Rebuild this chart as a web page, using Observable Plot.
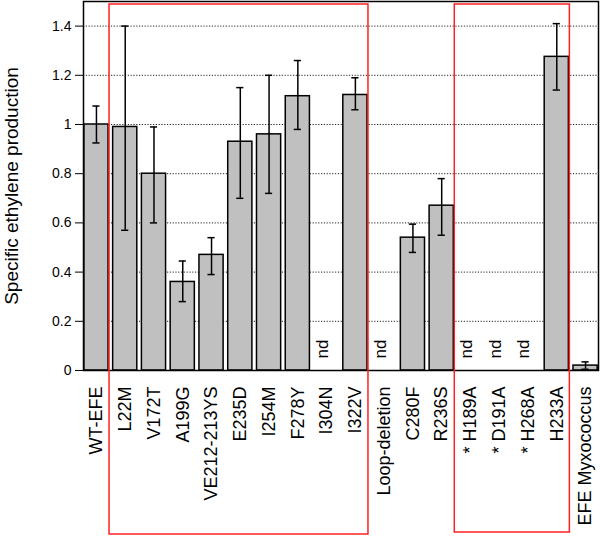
<!DOCTYPE html>
<html>
<head>
<meta charset="utf-8">
<script src="https://cdn.jsdelivr.net/npm/d3@7"></script>
<script src="https://cdn.jsdelivr.net/npm/@observablehq/plot@0.6"></script>
<style>
  html, body { margin: 0; padding: 0; background: #fff; }
  #chart svg { display: block; }
</style>
</head>
<body>
<div id="chart"></div>
<script>
const categories = ["WT-EFE", "L22M", "V172T", "A199G", "VE212-213YS", "E235D", "I254M", "F278Y", "I304N", "I322V",
  "Loop-deletion", "C280F", "R236S", "* H189A", "* D191A", "* H268A", "H233A", "EFE Myxococcus"];
const values  = [1.0, 0.99, 0.80, 0.36, 0.47, 0.93, 0.96, 1.115, null, 1.12, null, 0.54, 0.67, null, null, null, 1.275, 0.02];
const errLow  = [0.925, 0.57, 0.60, 0.28, 0.39, 0.70, 0.72, 0.98, null, 1.06, null, 0.48, 0.55, null, null, null, 1.14, 0.005];
const errHigh = [1.075, 1.40, 0.99, 0.445, 0.54, 1.15, 1.20, 1.26, null, 1.19, null, 0.595, 0.78, null, null, null, 1.41, 0.035];
const yTicks = [0, 0.2, 0.4, 0.6, 0.8, 1.0, 1.2, 1.4];
const yLabel = "Specific ethylene production";
const ndLabel = "nd";
const boxGroups = [["L22M", "I322V"], ["* H189A", "H233A"]];

const rows = categories.map((c, i) => ({cat: c, v: values[i], lo: errLow[i], hi: errHigh[i]}));
const measured = rows.filter(d => d.v != null);
const notDetected = rows.filter(d => d.v == null);

const W = 600, H = 543;
const font = "'Liberation Sans', Arial, sans-serif";

const plot = Plot.plot({
  width: W,
  height: H,
  marginLeft: 83,
  marginRight: 2,
  marginTop: 1,
  marginBottom: 173,
  style: {fontFamily: font, background: "white", color: "black"},
  x: {domain: categories, padding: 0.16, paddingOuter: 0.03, round: false},
  y: {domain: [0, 1.5]},
  marks: [
    Plot.ruleY(yTicks.filter(d => d > 0), {stroke: "#222", strokeWidth: 1, strokeDasharray: "1.2,1.6"}),
    Plot.barY(measured, {x: "cat", y: "v", fill: "#c0c0c0", stroke: "black", strokeWidth: 1.5}),
    Plot.ruleX(measured, {x: "cat", y1: "lo", y2: "hi", stroke: "black", strokeWidth: 1.5}),
    Plot.tickY(measured, {x: "cat", y: "lo", stroke: "black", strokeWidth: 1.5, insetLeft: 8.5, insetRight: 8.5}),
    Plot.tickY(measured, {x: "cat", y: "hi", stroke: "black", strokeWidth: 1.5, insetLeft: 8.5, insetRight: 8.5}),
    Plot.text(notDetected, {x: "cat", y: () => 0, text: () => ndLabel, rotate: -90, textAnchor: "start",
      dx: -4, dy: -12, fontSize: 17, fill: "black"}),
    Plot.axisY({ticks: yTicks, tickFormat: d => d3.format("~g")(d), tickSize: 8, tickPadding: 4,
      fontSize: 14, label: null}),
    Plot.axisY({ticks: [], tickSize: 0, fontSize: 19, label: yLabel, labelAnchor: "center",
      labelArrow: "none", labelOffset: 79}),
    Plot.axisX({tickSize: 0, tickPadding: 16, tickRotate: -90, fontSize: 18, label: null}),
    Plot.frame({stroke: "black", strokeWidth: 1.5})
  ]
});

// red grouping boxes, positioned from the plot's own x scale
const xs = plot.scale("x");
const bw = xs.bandwidth;
const svg = d3.select(plot.tagName === "svg" ? plot : plot.querySelector("svg"));
for (const [first, last] of boxGroups) {
  const iFirst = categories.indexOf(first);
  const prev = categories[iFirst - 1];
  const left = xs.apply(prev) + bw + 1;
  const right = xs.apply(last) + bw + 1;
  svg.append("rect")
    .attr("x", left).attr("y", 4)
    .attr("width", right - left).attr("height", H - 9 - 4 - (first === "L22M" ? 0 : 2))
    .attr("fill", "none").attr("stroke", "#ff2020").attr("stroke-width", 1.5);
}

document.getElementById("chart").appendChild(plot);
</script>
</body>
</html>
